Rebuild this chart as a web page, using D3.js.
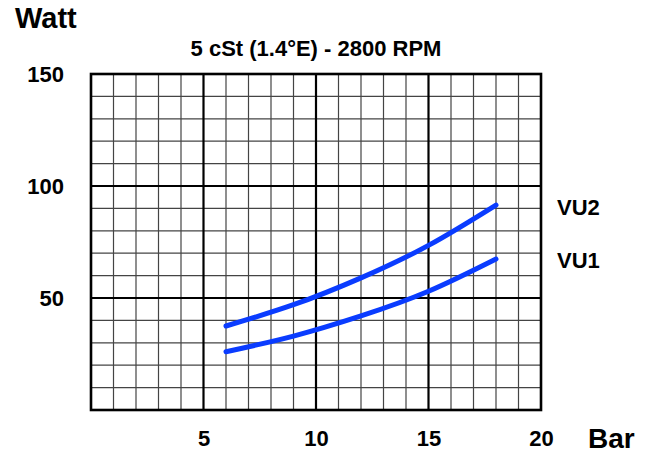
<!DOCTYPE html>
<html>
<head>
<meta charset="utf-8">
<script src="https://cdn.jsdelivr.net/npm/d3@7"></script>
<style>
  body { margin: 0; background: #fff; }
  text { font-family: "Liberation Sans", Arial, sans-serif; font-weight: bold; fill: #000; }
</style>
</head>
<body>
<div id="chart"></div>
<script>
// Data
const pressureBar = [6, 9, 12, 15, 18];
const vu2Watt = [37.5, 47, 59, 73.5, 91.5];
const vu1Watt = [26, 33, 42, 53, 67.4];
const seriesNames = ['VU2', 'VU1'];
const labelWatt = [90.5, 67];
const xTicks = [5, 10, 15, 20];
const yTicks = [50, 100, 150];

const W = 656, H = 456;
const margin = { top: 74, right: 115, bottom: 46, left: 91 };
const width = W - margin.left - margin.right;
const height = H - margin.top - margin.bottom;

const svg = d3.select('#chart').append('svg')
    .attr('width', W)
    .attr('height', H);

const g = svg.append('g')
    .attr('transform', `translate(${margin.left},${margin.top})`);

const x = d3.scaleLinear().domain([0, 20]).range([0, width]);
const y = d3.scaleLinear().domain([0, 150]).range([height, 0]);

// Minor grid
g.append('g')
    .selectAll('line')
    .data(d3.range(1, 20).filter(v => v % 5 !== 0))
    .join('line')
    .attr('x1', d => x(d)).attr('x2', d => x(d))
    .attr('y1', 0).attr('y2', height)
    .attr('stroke', '#444').attr('stroke-width', 1.2);

g.append('g')
    .selectAll('line')
    .data(d3.range(10, 150, 10).filter(v => v % 50 !== 0))
    .join('line')
    .attr('y1', d => y(d)).attr('y2', d => y(d))
    .attr('x1', 0).attr('x2', width)
    .attr('stroke', '#444').attr('stroke-width', 1.2);

// Major grid
g.append('g')
    .selectAll('line')
    .data([5, 10, 15])
    .join('line')
    .attr('x1', d => x(d)).attr('x2', d => x(d))
    .attr('y1', 0).attr('y2', height)
    .attr('stroke', '#000').attr('stroke-width', 2.2);

g.append('g')
    .selectAll('line')
    .data([50, 100])
    .join('line')
    .attr('y1', d => y(d)).attr('y2', d => y(d))
    .attr('x1', 0).attr('x2', width)
    .attr('stroke', '#000').attr('stroke-width', 2.2);

// Frame
g.append('rect')
    .attr('width', width).attr('height', height)
    .attr('fill', 'none').attr('stroke', '#000').attr('stroke-width', 2.6);

// Axes (labels only)
const xAxis = g.append('g')
    .attr('transform', `translate(0,${height})`)
    .call(d3.axisBottom(x).tickValues(xTicks).tickSize(0).tickPadding(20));
xAxis.select('.domain').remove();
xAxis.selectAll('text').style('font-size', '22px').attr('dy', '0.71em');

const yAxis = g.append('g')
    .call(d3.axisLeft(y).tickValues(yTicks).tickSize(0).tickPadding(27));
yAxis.select('.domain').remove();
yAxis.selectAll('text').style('font-size', '22px');
svg.selectAll('.tick text').style('font-family', '"Liberation Sans", Arial, sans-serif').style('font-weight', 'bold').attr('fill', '#000');

// Curves
const line = d3.line()
    .x(d => x(d[0]))
    .y(d => y(d[1]))
    .curve(d3.curveNatural);

[vu2Watt, vu1Watt].forEach(vals => {
    g.append('path')
        .datum(pressureBar.map((p, i) => [p, vals[i]]))
        .attr('d', line)
        .attr('fill', 'none')
        .attr('stroke', '#0a3cff')
        .attr('stroke-width', 5)
        .attr('stroke-linecap', 'round');
});

// Series labels
seriesNames.forEach((name, i) => {
    g.append('text')
        .attr('x', width + 16)
        .attr('y', y(labelWatt[i]))
        .attr('dy', '0.35em')
        .style('font-size', '22px')
        .text(name);
});

// Titles
svg.append('text')
    .attr('x', margin.left + x(10))
    .attr('y', 56)
    .attr('text-anchor', 'middle')
    .style('font-size', '22px')
    .text('5 cSt (1.4°E) - 2800 RPM');

svg.append('text')
    .attr('x', 15)
    .attr('y', 28)
    .style('font-size', '29px')
    .text('Watt');

svg.append('text')
    .attr('x', 588)
    .attr('y', 448)
    .style('font-size', '28px')
    .text('Bar');
</script>
</body>
</html>
